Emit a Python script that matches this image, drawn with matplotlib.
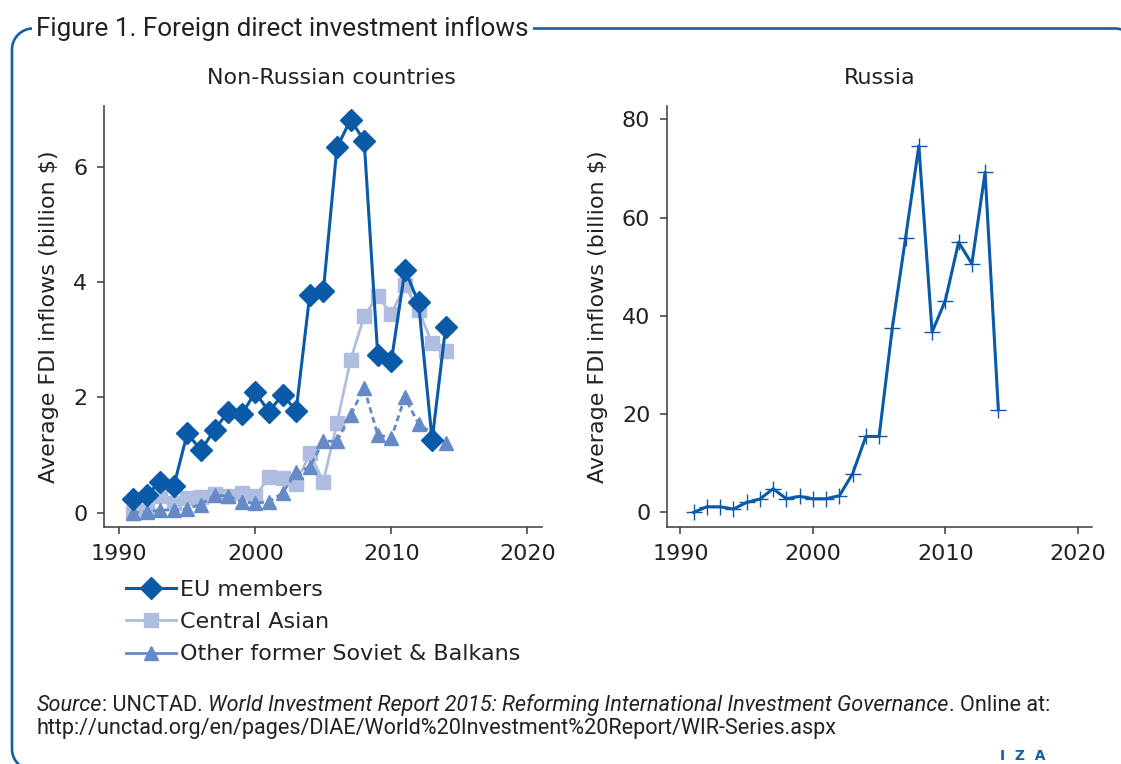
import matplotlib
matplotlib.use("Agg")
import numpy as np
import matplotlib.pyplot as plt
from matplotlib.lines import Line2D

# Data
years = list(range(1991, 2015))

eu_members = [0.24, 0.30, 0.54, 0.46, 1.38, 1.08, 1.44, 1.75, 1.71, 2.09, 1.75, 2.05,
              1.77, 3.78, 3.85, 6.34, 6.82, 6.46, 2.74, 2.63, 4.21, 3.65, 1.26, 3.23]
central_asian = [0.00, 0.02, 0.29, 0.17, 0.26, 0.27, 0.33, 0.29, 0.34, 0.29, 0.61, 0.60,
                 0.50, 1.03, 0.54, 1.55, 2.65, 3.41, 3.76, 3.45, 3.95, 3.52, 2.94, 2.80]
other_soviet = [0.00, 0.01, 0.05, 0.04, 0.07, 0.14, 0.30, 0.29, 0.19, 0.16, 0.19, 0.34,
                0.70, 0.79, 1.24, 1.24, 1.69, 2.17, 1.35, 1.30, 2.00, 1.54, 1.38, 1.20]
russia = [0.0, 1.15, 1.15, 0.68, 2.03, 2.71, 4.81, 2.78, 3.25, 2.78, 2.78, 3.39,
          7.86, 15.46, 15.46, 37.6, 55.9, 74.6, 36.7, 43.1, 55.0, 50.6, 69.2, 20.9]

x_ticks = [1990, 2000, 2010, 2020]
left_y_ticks = [0, 2, 4, 6]
right_y_ticks = [0, 20, 40, 60, 80]

series_labels = ["EU members", "Central Asian", "Other former Soviet & Balkans"]

# Colours
c_eu = "#0a5aa8"
c_ca = "#aebde0"
c_ot = "#6689c8"
c_frame = "#1060aa"
c_text = "#222222"
c_spine = "#3a3a3a"

plt.rcParams['font.family'] = ['DejaVu Sans']

W, H = 1121, 764
fig = plt.figure(figsize=(W / 100, H / 100), dpi=100)


def fig_rect(x0, y0, x1, y1):
    # pixel box (top-left origin) -> figure fraction rect
    return [x0 / W, 1 - y1 / H, (x1 - x0) / W, (y1 - y0) / H]


def style_axes(ax):
    for side in ["top", "right"]:
        ax.spines[side].set_visible(False)
    for side in ["left", "bottom"]:
        ax.spines[side].set_color(c_spine)
        ax.spines[side].set_linewidth(1.1)
    ax.tick_params(direction="out", length=5, width=1.1, color=c_spine,
                   labelsize=16, labelcolor=c_text, pad=7)
    ax.set_facecolor("none")


# Left panel: non-Russian countries
ax1 = fig.add_axes(fig_rect(104, 106, 542, 527))
ax1.plot(years, central_asian, color=c_ca, lw=2.0, marker="s", ms=9.5, mec=c_ca, mfc=c_ca, zorder=2)
ax1.plot(years, other_soviet, color=c_ot, lw=2.0, marker="^", ms=9.5, mec=c_ot, mfc=c_ot,
         ls=(0, (2.2, 1.4)), zorder=3)
ax1.plot(years, eu_members, color=c_eu, lw=2.2, marker="D", ms=11.5, mec=c_eu, mfc=c_eu, zorder=4)
ax1.set_xlim(1988.87, 2021.08)
ax1.set_ylim(-0.25, 7.06)
ax1.set_xticks(x_ticks)
ax1.set_yticks(left_y_ticks)
ax1.set_ylabel("Average FDI inflows (billion $)", fontsize=16, color=c_text, labelpad=10)
style_axes(ax1)
fig.text(331 / W, 1 - 78 / H, "Non-Russian countries", fontsize=16, color=c_text,
         ha="center", va="center")

# Right panel: Russia
ax2 = fig.add_axes(fig_rect(667, 106, 1092, 527))
ax2.plot(years, russia, color=c_eu, lw=2.2, marker="+", ms=11, mew=1.0)
ax2.set_xlim(1988.99, 2021.07)
ax2.set_ylim(-2.97, 82.7)
ax2.set_xticks(x_ticks)
ax2.set_yticks(right_y_ticks)
ax2.set_ylabel("Average FDI inflows (billion $)", fontsize=16, color=c_text, labelpad=10)
style_axes(ax2)
fig.text(880 / W, 1 - 78 / H, "Russia", fontsize=16, color=c_text, ha="center", va="center")

# Legend (handles drawn solid as in the reference)
handles = [
    Line2D([], [], color=c_eu, lw=2.2, marker="D", ms=11.5),
    Line2D([], [], color=c_ca, lw=2.0, marker="s", ms=9.5),
    Line2D([], [], color=c_ot, lw=2.0, marker="^", ms=9.5),
]
fig.legend(handles, series_labels, loc="upper left", bbox_to_anchor=(126 / W, 1 - 580 / H),
           frameon=False, fontsize=16, handlelength=2.25, handletextpad=0.2,
           labelspacing=0.55, borderpad=0, borderaxespad=0, labelcolor=c_text)

# Rounded frame round the figure, drawn in pixel coordinates
frame_ax = fig.add_axes([0, 0, 1, 1], zorder=-1)
frame_ax.set_xlim(0, W)
frame_ax.set_ylim(H, 0)
frame_ax.axis("off")
r = 21
xl, yt, xr, yb = 12, 28.5, 1136, 770
t = np.linspace(0, np.pi / 2, 24)
bl_x, bl_y = xl + r - r * np.sin(t), yb - r + r * np.cos(t)
tl_x, tl_y = xl + r - r * np.cos(t), yt + r - r * np.sin(t)
tr_x, tr_y = xr - r + r * np.sin(t), yt + r - r * np.cos(t)
frame_ax.plot(np.concatenate([bl_x, tl_x, tr_x, [xr]]),
              np.concatenate([bl_y, tl_y, tr_y, [yb]]),
              color=c_frame, lw=1.9, clip_on=False)

head = ["Roboto", "DejaVu Sans"]
fig.text(36 / W, 1 - 29 / H, "Figure 1. Foreign direct investment inflows", fontsize=18.8,
         family=head, color=c_text, ha="left", va="center",
         bbox=dict(facecolor="white", edgecolor="none", pad=3))

# Source note with mixed italic / regular pieces on one baseline
renderer = fig.canvas.get_renderer()
pieces = [("Source", "italic"), (": UNCTAD. ", "normal"),
          ("World Investment Report 2015: Reforming International Investment Governance", "italic"),
          (". Online at:", "normal")]
x_px = 37
for txt, style in pieces:
    tx = fig.text(x_px / W, 1 - 711 / H, txt, fontsize=15.6, family=head, style=style,
                  color=c_text, ha="left", va="baseline")
    x_px += tx.get_window_extent(renderer).width
fig.text(37 / W, 1 - 734 / H, "http://unctad.org/en/pages/DIAE/World%20Investment%20Report/WIR-Series.aspx",
         fontsize=15.6, family=head, color=c_text, ha="left", va="baseline")

fig.text(1000 / W, 1 - 756 / H, "I  Z  A", fontsize=10, fontweight="bold", color=c_frame,
         ha="left", va="center")

fig.savefig("out.png", dpi=100)
